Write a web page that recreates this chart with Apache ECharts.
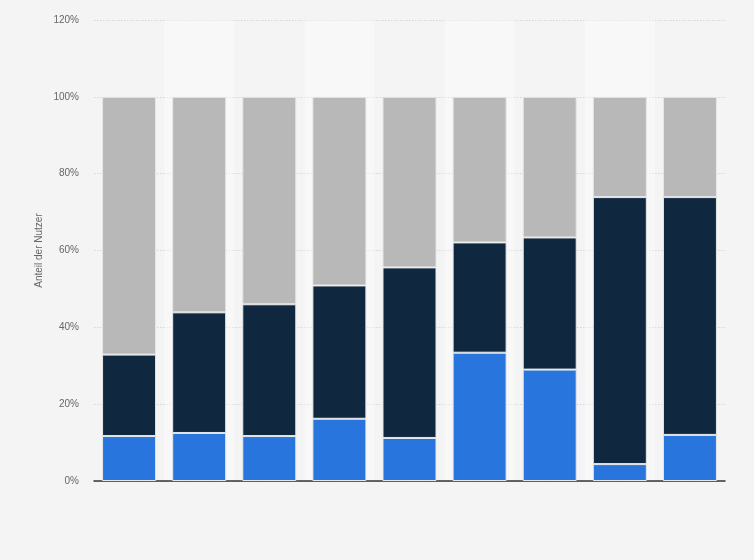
<!DOCTYPE html>
<html>
<head>
<meta charset="utf-8">
<script src="https://cdn.jsdelivr.net/npm/echarts@6/dist/echarts.min.js"></script>
<style>html,body{margin:0;padding:0;background:#f4f4f4;}#c{width:754px;height:560px;}</style>
</head>
<body>
<div id="c"></div>
<script>
const categories = ['1','2','3','4','5','6','7','8','9'];
const seriesBlue = [11.7, 12.5, 11.7, 16.2, 11.2, 33.4, 29.0, 4.4, 12.0];
const seriesNavy = [21.2, 31.4, 34.3, 34.7, 44.4, 28.7, 34.4, 69.5, 61.9];
const seriesGray = [67.1, 56.1, 54.0, 49.1, 44.4, 37.9, 36.6, 26.1, 26.1];
const yTicks = [0, 20, 40, 60, 80, 100, 120];

const chart = echarts.init(document.getElementById('c'));
const seg = (name, data, color) => ({
  name, type: 'bar', stack: 'total', data,
  barCategoryGap: '23%',
  itemStyle: { color, borderColor: '#e6e6e6', borderWidth: 1 }
});
chart.setOption({
  backgroundColor: '#f4f4f4',
  animation: false,
  grid: { left: 94, right: 29, top: 20, bottom: 79 },
  xAxis: {
    type: 'category', data: categories,
    axisLine: { lineStyle: { color: '#333', width: 1.5 } },
    axisTick: { show: false },
    axisLabel: { show: false },
    splitArea: { show: true, areaStyle: { color: ['rgba(0,0,0,0)', 'rgba(255,255,255,0.35)'] } }
  },
  yAxis: {
    type: 'value', min: yTicks[0], max: yTicks[yTicks.length - 1], interval: 20,
    name: 'Anteil der Nutzer', nameLocation: 'middle', nameGap: 50, nameMoveOverlap: false,
    nameTextStyle: { color: '#666', fontSize: 10, fontFamily: 'Arial, Liberation Sans, sans-serif' },
    axisLine: { show: false }, axisTick: { show: false },
    axisLabel: { color: '#666', fontSize: 10, margin: 15, fontFamily: 'Arial, Liberation Sans, sans-serif', formatter: v => v + '%' },
    splitLine: { lineStyle: { color: '#d6d6d6', type: [1.5, 1.5] } }
  },
  series: [
    seg('Blau', seriesBlue, '#2876dd'),
    seg('Navy', seriesNavy, '#0f2840'),
    seg('Grau', seriesGray, '#b8b8b8')
  ]
});
</script>
</body>
</html>
